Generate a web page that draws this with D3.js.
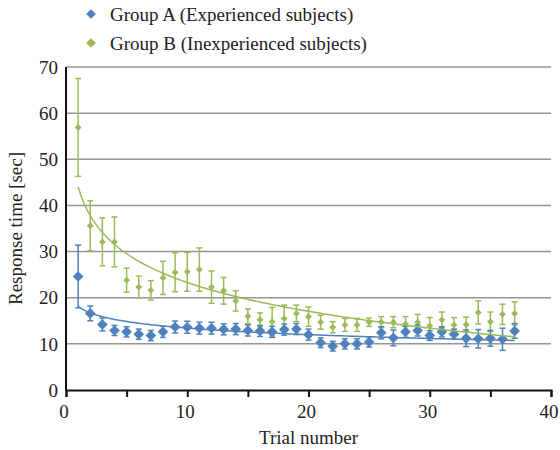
<!DOCTYPE html>
<html><head><meta charset="utf-8">
<script src="https://cdn.jsdelivr.net/npm/d3@7/dist/d3.min.js"></script>
</head><body style="margin:0">
<svg id="c" width="560" height="450" style="font-family:'Liberation Serif'"></svg>
<script>
const trials = [1,2,3,4,5,6,7,8,9,10,11,12,13,14,15,16,17,18,19,20,21,22,23,24,25,26,27,28,29,30,31,32,33,34,35,36,37];
const groupA = [24.6,16.6,14.2,12.9,12.6,12.1,11.8,12.6,13.65,13.6,13.4,13.4,13.15,13.2,12.9,12.8,12.6,13.1,13.2,12.0,10.25,9.5,10.0,10.0,10.4,12.4,11.3,12.6,12.9,11.8,12.6,12.1,11.2,11.1,11.2,11.0,12.8];
const errA = [6.8,1.6,1.4,1.1,1.1,1.1,1.1,1.2,1.3,1.3,1.3,1.3,1.2,1.2,1.2,1.2,1.2,1.2,1.2,1.2,1.05,1.05,1.1,1.1,1.1,1.3,1.7,1.2,1.2,1.05,1.1,1.1,1.8,2.0,1.7,2.4,1.6];
const groupB = [56.9,35.6,32.1,32.1,23.8,22.3,21.6,24.3,25.5,25.6,26.1,22.3,21.5,19.3,16.0,15.2,14.8,15.5,16.6,15.9,14.7,13.6,14.1,14.1,14.7,14.7,14.7,14.3,14.7,13.9,15.2,14.1,14.2,16.8,14.8,16.4,16.6];
const errB = [10.6,5.4,5.2,5.4,2.6,2.4,2.1,3.6,4.2,4.2,4.7,3.5,2.9,2.2,1.6,1.5,3.1,2.9,1.8,2.1,1.5,1.2,1.4,1.4,0.9,1.2,1.2,1.6,1.7,1.8,1.7,1.6,1.6,2.5,2.1,2.2,2.5];
const seriesNames = ["Group A (Experienced subjects)","Group B (Inexperienced subjects)"];
const xTicks = [0,5,10,15,20,25,30,35,40];
const xLabels = [0,10,20,30,40];
const yTicks = [0,10,20,30,40,50,60,70];

const colA = "#4f81bd", colB = "#9bbb59";
const svg = d3.select("#c");
const L = 66, R = 551, T = 67, B = 390;
const x = d3.scaleLinear().domain([0,40]).range([L,R]);
const y = d3.scaleLinear().domain([0,70]).range([B,T]);

function txt(sel){ return sel.style("font-family","Liberation Serif").attr("font-family","Liberation Serif").attr("font-size",19).attr("fill","#222"); }

svg.append("g").selectAll("line").data(yTicks.filter(d=>d>0)).join("line")
  .attr("x1",L).attr("x2",R).attr("y1",d=>y(d)).attr("y2",d=>y(d))
  .attr("stroke","#969696").attr("stroke-width",1.5);

function logFit(xs, ys){
  const lx = xs.map(Math.log), n = xs.length;
  const mx = d3.mean(lx), my = d3.mean(ys);
  let sxy=0, sxx=0;
  for(let i=0;i<n;i++){sxy+=(lx[i]-mx)*(ys[i]-my); sxx+=(lx[i]-mx)**2;}
  const b = sxy/sxx; return {a: my - b*mx, b};
}
function drawSeries(vals, errs, col, size){
  const g = svg.append("g");
  const cap = 3;
  trials.forEach((t,i)=>{
    const cx = x(t), y1 = y(vals[i]+errs[i]), y2 = y(vals[i]-errs[i]);
    g.append("line").attr("x1",cx).attr("x2",cx).attr("y1",y1).attr("y2",y2).attr("stroke",col).attr("stroke-width",1.5);
    g.append("line").attr("x1",cx-cap).attr("x2",cx+cap).attr("y1",y1).attr("y2",y1).attr("stroke",col).attr("stroke-width",1.5);
    g.append("line").attr("x1",cx-cap).attr("x2",cx+cap).attr("y1",y2).attr("y2",y2).attr("stroke",col).attr("stroke-width",1.5);
  });
  g.selectAll("path.m").data(trials).join("path").attr("class","m")
    .attr("d", d3.symbol(d3.symbolDiamond2, size))
    .attr("transform",(t,i)=>`translate(${x(t)},${y(vals[i])})`)
    .attr("fill",col);
}
function drawTrend(vals, col){
  const f = logFit(trials, vals);
  const pts = d3.range(1, 37.001, 0.25).map(t=>[t, f.a + f.b*Math.log(t)]);
  svg.append("path").attr("d", d3.line().x(d=>x(d[0])).y(d=>y(d[1]))(pts))
    .attr("fill","none").attr("stroke",col).attr("stroke-width",1.5);
}
drawSeries(groupB, errB, colB, 30);
drawSeries(groupA, errA, colA, 72);
drawTrend(groupB, colB);
drawTrend(groupA, colA);

const xa = svg.append("g").attr("transform",`translate(0,${B})`)
  .call(d3.axisBottom(x).tickValues(xTicks).tickSize(7).tickFormat(""));
xa.select(".domain").attr("stroke","#111").attr("stroke-width",2);
xa.selectAll(".tick line").attr("stroke","#111").attr("stroke-width",2);
svg.append("line").attr("x1",L).attr("x2",L).attr("y1",T).attr("y2",B+1).attr("stroke","#111").attr("stroke-width",2);

svg.append("g").selectAll("text").data(xLabels).join("text")
  .call(txt).attr("x",d=>x(d)-2).attr("y",418).attr("text-anchor","middle").text(d=>d);
svg.append("g").selectAll("text").data(yTicks).join("text")
  .call(txt).attr("x",58).attr("y",d=>y(d)).attr("dy","0.35em").attr("text-anchor","end").text(d=>d);

svg.append("text").call(txt).attr("x",(L+R)/2).attr("y",444).attr("text-anchor","middle").text("Trial number");
svg.append("text").call(txt).attr("transform",`translate(22,${(T+B)/2}) rotate(-90)`).attr("text-anchor","middle").text("Response time [sec]");

const leg = [[colA,14],[colB,43]];
leg.forEach((l,i)=>{
  svg.append("path").attr("d", d3.symbol(d3.symbolDiamond2, 60)).attr("transform",`translate(91,${l[1]})`).attr("fill",l[0]);
  svg.append("text").call(txt).attr("x",110).attr("y",l[1]).attr("dy","0.35em").text(seriesNames[i]);
});
</script></body></html>
